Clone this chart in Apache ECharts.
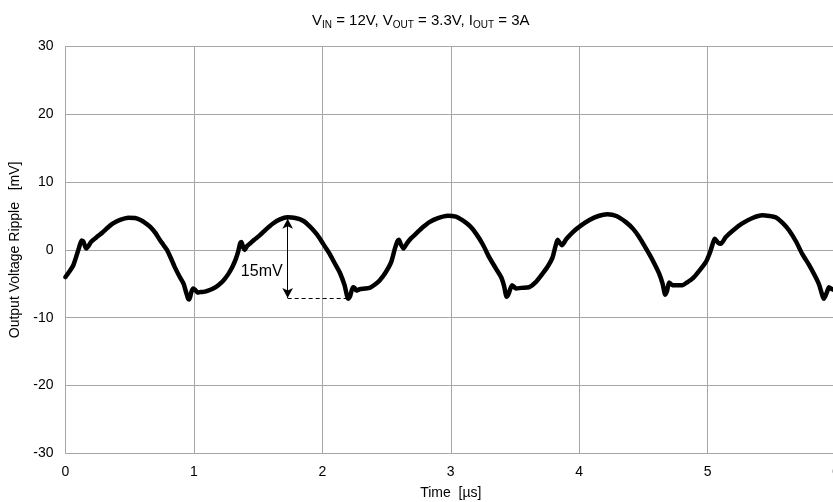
<!DOCTYPE html>
<html>
<head>
<meta charset="utf-8">
<script src="https://cdn.jsdelivr.net/npm/echarts@6/dist/echarts.min.js"></script>
<style>
html,body{margin:0;padding:0;background:#fff;}
#chart{width:833px;height:502px;}
</style>
</head>
<body>
<div id="chart"></div>
<script>
// Time in microseconds
const timeUs = [
  0.00,0.03,0.06,0.09,0.105,0.125,0.14,0.16,0.18,0.20,0.25,0.29,0.33,0.37,0.42,0.49,0.54,0.58,0.62,0.66,
  0.70,0.73,0.76,0.79,0.82,0.85,0.89,0.92,0.94,0.955,0.965,0.98,0.995,1.01,1.03,1.05,1.07,1.11,1.15,1.19,
  1.23,1.27,1.30,1.325,1.344,1.36,1.37,1.385,1.396,1.415,1.435,1.47,1.51,1.56,1.616,1.67,1.728,1.79,1.85,1.90,
  1.953,1.99,2.03,2.057,2.10,2.135,2.173,2.19,2.20,2.215,2.238,2.25,2.264,2.29,2.33,2.368,2.41,2.446,2.49,2.536,
  2.565,2.585,2.596,2.612,2.632,2.66,2.69,2.73,2.78,2.834,2.90,2.977,3.04,3.093,3.15,3.197,3.25,3.30,3.35,3.392,
  3.415,3.435,3.45,3.477,3.49,3.508,3.55,3.612,3.66,3.715,3.76,3.793,3.815,3.832,3.85,3.866,3.90,3.949,4.00,4.08,
  4.15,4.22,4.29,4.364,4.42,4.467,4.505,4.545,4.585,4.623,4.65,4.67,4.685,4.70,4.726,4.76,4.804,4.84,4.882,4.93,
  4.986,5.02,5.045,5.056,5.08,5.103,5.142,5.20,5.27,5.35,5.426,5.48,5.53,5.584,5.634,5.69,5.737,5.79,5.841,5.87,
  5.895,5.906,5.93,5.945,5.97,6.00
];
// Output voltage ripple in mV
const rippleMv = [
  -4.0,-3.2,-2.3,-0.6,0.3,1.4,1.2,0.2,0.6,1.2,2.0,2.6,3.3,3.9,4.4,4.75,4.7,4.45,4.0,3.4,
  2.5,1.6,0.8,0.0,-1.2,-2.5,-4.0,-5.0,-6.3,-7.2,-7.3,-6.2,-5.7,-5.9,-6.3,-6.2,-6.2,-6.0,-5.7,-5.2,
  -4.5,-3.5,-2.5,-1.4,-0.3,1.0,1.15,0.3,0.0,0.6,0.9,1.5,2.1,3.0,3.9,4.5,4.8,4.7,4.3,3.5,
  2.4,1.4,0.2,-0.6,-2.1,-3.3,-5.2,-6.6,-7.2,-6.9,-5.5,-5.6,-6.0,-5.8,-5.7,-5.6,-5.1,-4.5,-3.4,-1.8,
  0.2,1.3,1.5,0.8,0.2,1.0,1.7,2.4,3.3,4.1,4.7,5.05,4.9,4.35,3.5,2.4,0.8,-1.1,-2.7,-4.0,
  -5.3,-6.9,-6.5,-5.2,-5.4,-5.7,-5.6,-5.5,-4.8,-3.5,-2.3,-1.1,0.5,1.5,1.0,0.7,1.6,2.6,3.4,4.4,
  5.0,5.25,5.0,4.1,3.1,1.9,0.7,-0.6,-2.0,-3.5,-5.0,-6.6,-6.0,-4.8,-5.2,-5.2,-5.2,-4.8,-4.25,-3.2,
  -1.8,-0.3,1.2,1.65,1.1,0.9,1.9,2.9,3.9,4.7,5.1,5.0,4.8,4.0,2.9,1.2,-0.6,-2.2,-4.0,-5.2,
  -6.8,-7.2,-6.2,-5.5,-5.8,-6.0
];
// Axis ticks
const xTicks = [0,1,2,3,4,5,6];
const yTicks = [-30,-20,-10,0,10,20,30];
// Annotation: arrow x, arrow top, arrow bottom, dashed line end (data units)
const annotArrowX = [1.73];
const annotTop = [4.6];
const annotBottom = [-7.1];
const annotDashEnd = [2.2];
const annotLabel = ['15mV'];
const annotLabelY = [-3.2];

const seriesData = timeUs.map((t, i) => [t, rippleMv[i]]);
const gridColor = '#a6a6a6';
const font = '"Liberation Sans", Arial, sans-serif';

const chart = echarts.init(document.getElementById('chart'), null, {renderer: 'canvas'});
chart.setOption({
  animation: false,
  backgroundColor: '#ffffff',
  title: {
    text: '{m|V}{s|IN}{m| = 12V, V}{s|OUT}{m| = 3.3V, I}{s|OUT}{m| = 3A}',
    left: 307, top: 7, padding: 5,
    textStyle: {
      fontFamily: font, fontWeight: 'normal', color: '#000',
      rich: {
        m: {fontFamily: font, fontSize: 15, lineHeight: 17, color: '#000'},
        s: {fontFamily: font, fontSize: 10, lineHeight: 10, padding: [9,0,0,0], color: '#000'}
      }
    }
  },
  grid: {left: 65.5, top: 46.5, width: 770.5, height: 406.8, containLabel: false, outerBoundsMode: 'none'},
  xAxis: {
    type: 'value', min: xTicks[0], max: xTicks[xTicks.length-1], interval: 1,
    name: 'Time  [µs]', nameLocation: 'middle', nameGap: 33,
    nameTextStyle: {fontFamily: font, fontSize: 14, color: '#000'},
    axisLine: {show: true, lineStyle: {color: gridColor, width: 1}},
    axisTick: {show: false},
    axisLabel: {fontFamily: font, fontSize: 14, color: '#000', margin: 12},
    splitLine: {show: true, lineStyle: {color: gridColor, width: 1}}
  },
  yAxis: {
    type: 'value', min: yTicks[0], max: yTicks[yTicks.length-1], interval: 10,
    name: 'Output Voltage Ripple   [mV]', nameLocation: 'middle', nameGap: 30,
    nameTextStyle: {fontFamily: font, fontSize: 14, color: '#000'},
    axisLine: {show: true, lineStyle: {color: gridColor, width: 1}},
    axisTick: {show: false},
    axisLabel: {fontFamily: font, fontSize: 14, color: '#000', margin: 12},
    splitLine: {show: true, lineStyle: {color: gridColor, width: 1}}
  },
  series: [
    {
      type: 'line', data: seriesData, showSymbol: false, symbol: 'none', smooth: 0.2,
      lineStyle: {color: '#000', width: 4.5, join: 'round', cap: 'round'},
      z: 3,
      markLine: {
        silent: true, symbol: 'none', animation: false,
        label: {show: false},
        data: [
          [
            {coord: [annotArrowX[0], annotTop[0]], symbol: 'arrow', symbolSize: [8, 10], lineStyle: {color: '#000', width: 1, type: 'solid'}},
            {coord: [annotArrowX[0], annotBottom[0]], symbol: 'arrow', symbolSize: [8, 10]}
          ],
          [
            {coord: [annotArrowX[0], annotBottom[0]], symbol: 'none', lineStyle: {color: '#000', width: 1, type: [4, 3]}},
            {coord: [annotDashEnd[0], annotBottom[0]], symbol: 'none'}
          ]
        ]
      }
    }
  ]
});
const labelPos = chart.convertToPixel({gridIndex: 0}, [annotArrowX[0], annotLabelY[0]]);
chart.setOption({
  graphic: [{
    type: 'text', x: labelPos[0] - 5, y: labelPos[1], z: 10, silent: true,
    style: {text: annotLabel[0], fill: '#000', fontFamily: font, fontSize: 16,
      align: 'right', verticalAlign: 'middle'}
  }]
});
</script>
</body>
</html>
